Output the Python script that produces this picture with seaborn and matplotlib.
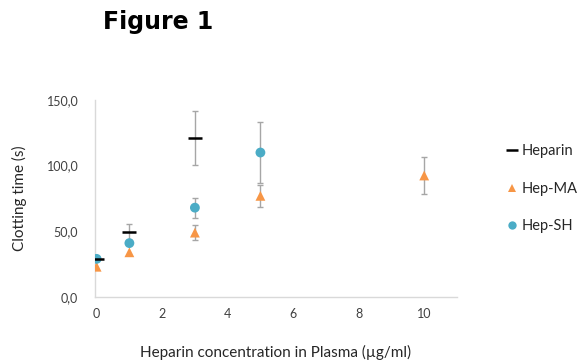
import numpy as np
import pandas as pd
import matplotlib
matplotlib.use("Agg")
import matplotlib.pyplot as plt
import seaborn as sns
from matplotlib.ticker import FuncFormatter
from matplotlib.lines import Line2D

# data
heparin_x = [0, 1, 3]
heparin_y = [29.0, 49.5, 121.0]
heparin_err = [0.0, 6.0, 20.5]

hepma_x = [0, 1, 3, 5, 10]
hepma_y = [23.0, 34.0, 49.0, 77.0, 92.5]
hepma_err = [0.0, 0.0, 6.0, 8.5, 14.0]

hepsh_x = [0, 1, 3, 5]
hepsh_y = [29.0, 41.0, 68.0, 110.0]
hepsh_err = [0.0, 0.0, 7.5, 23.0]

series_names = ["Heparin", "Hep-MA", "Hep-SH"]
yticks = [0, 50, 100, 150]
xticks = [0, 2, 4, 6, 8, 10]

sns.set_style("white")
plt.rcParams["font.family"] = ["Lato", "DejaVu Sans"]

df = pd.concat([
    pd.DataFrame({"conc": heparin_x, "time": heparin_y, "err": heparin_err, "sample": "Heparin"}),
    pd.DataFrame({"conc": hepma_x, "time": hepma_y, "err": hepma_err, "sample": "Hep-MA"}),
    pd.DataFrame({"conc": hepsh_x, "time": hepsh_y, "err": hepsh_err, "sample": "Hep-SH"}),
])

fig = plt.figure(figsize=(5.81, 3.63), dpi=100)
ax = fig.add_axes([0.1635, 0.182, 0.623, 0.5425])

# error bars first so markers sit on top
for name in series_names:
    d = df[(df["sample"] == name) & (df["err"] > 0)]
    ax.errorbar(d["conc"], d["time"], yerr=d["err"], fmt="none",
                ecolor="#a6a6a6", elinewidth=1.0, capsize=2, capthick=1.0, zorder=1)

palette = {"Heparin": "black", "Hep-MA": "#f79646", "Hep-SH": "#4bacc6"}
markers = {"Hep-MA": "^", "Hep-SH": "o"}

filled = df[df["sample"] != "Heparin"]
sns.scatterplot(data=filled, x="conc", y="time", hue="sample", style="sample",
                hue_order=["Hep-MA", "Hep-SH"], style_order=["Hep-MA", "Hep-SH"],
                palette=palette, markers=markers, s=50, linewidth=0,
                ax=ax, zorder=3, legend=False)

hep = df[df["sample"] == "Heparin"]
sns.scatterplot(data=hep, x="conc", y="time", marker="_", s=110, color="black",
                linewidth=1.8, ax=ax, zorder=4, legend=False)

ax.set_xlim(-0.05, 11.0)
ax.set_ylim(0, 150)
ax.set_xticks(xticks)
ax.set_yticks(yticks)
ax.yaxis.set_major_formatter(FuncFormatter(lambda v, p: f"{v:.1f}".replace(".", ",")))
ax.tick_params(axis="both", length=0, labelsize=9, labelcolor="#404040")
ax.tick_params(axis="y", pad=12)
ax.tick_params(axis="x", pad=8)

for side in ["top", "right"]:
    ax.spines[side].set_visible(False)
for side in ["left", "bottom"]:
    ax.spines[side].set_color("#d9d9d9")
    ax.spines[side].set_linewidth(1.0)

ax.set_xlabel("Heparin concentration in Plasma (µg/ml)", fontsize=11, color="#262626", labelpad=18)
ax.set_ylabel("Clotting time (s)", fontsize=11, color="#262626", labelpad=14)

fig.text(0.177, 0.94, "Figure 1", fontsize=17, fontweight="heavy", family="DejaVu Sans",
         color="black", va="center")

# legend on the right
handles = [
    Line2D([], [], marker="_", color="black", linestyle="none", markersize=8, markeredgewidth=1.8),
    Line2D([], [], marker="^", color="#f79646", linestyle="none", markersize=6, markeredgewidth=0),
    Line2D([], [], marker="o", color="#4bacc6", linestyle="none", markersize=6, markeredgewidth=0),
]
fig.legend(handles, series_names, loc="upper left", bbox_to_anchor=(0.872, 0.6025),
           frameon=False, fontsize=10.5, handlelength=0.7, handletextpad=0.35,
           labelspacing=1.6, borderpad=0, borderaxespad=0)

fig.savefig("out.png", dpi=100)
